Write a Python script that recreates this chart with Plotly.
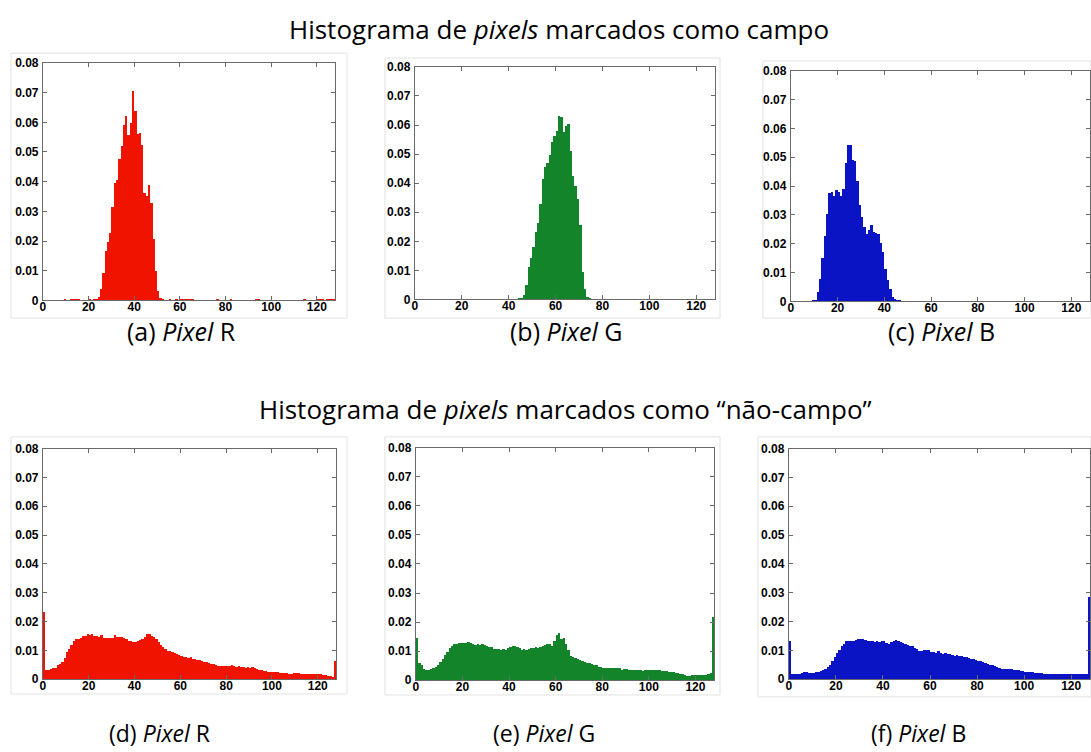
import plotly.graph_objects as go

# ---------------- data (normalised histograms, 128 bins) ----------------
bin_index = list(range(128))
x_ticks = [0, 20, 40, 60, 80, 100, 120]
y_ticks = [0, 0.01, 0.02, 0.03, 0.04, 0.05, 0.06, 0.07, 0.08]
y_tick_text = ["0", "0.01", "0.02", "0.03", "0.04", "0.05", "0.06", "0.07", "0.08"]

campo_R = [
    0, 0, 0, 0, 0, 0, 0, 0, 0, 0.0002, 0, 0, 0.0002, 0.0002, 0.0002, 0.0002,
    0, 0, 0, 0, 0.0002, 0, 0.0003, 0.0005, 0.0013, 0.0039, 0.0094, 0.0168, 0.0198, 0.0229, 0.0315, 0.0396,
    0.0407, 0.0476, 0.0520, 0.0590, 0.0620, 0.0556, 0.0597, 0.0705, 0.0637, 0.0560, 0.0564, 0.0524, 0.0363, 0.0352, 0.0389, 0.0328,
    0.0206, 0.0101, 0.0032, 0.0008, 0.0003, 0, 0, 0.0002, 0, 0, 0.0002, 0, 0.0002, 0.0002, 0.0002, 0.0002,
    0.0002, 0.0002, 0, 0, 0, 0, 0, 0, 0, 0, 0, 0, 0.0002, 0, 0, 0,
    0, 0, 0.0002, 0, 0, 0, 0, 0, 0, 0, 0, 0, 0, 0.0002, 0.0002, 0,
    0, 0, 0, 0, 0, 0, 0, 0, 0, 0, 0, 0, 0, 0, 0, 0,
    0, 0, 0.0002, 0, 0, 0, 0, 0, 0.0002, 0.0002, 0.0002, 0, 0.0002, 0.0002, 0.0002, 0.0002,
]

campo_G = [
    0, 0, 0, 0, 0, 0, 0, 0, 0, 0, 0, 0, 0, 0, 0, 0,
    0, 0, 0, 0, 0, 0, 0, 0, 0, 0, 0, 0, 0.0002, 0.0002, 0, 0,
    0.0002, 0, 0.0002, 0.0002, 0, 0, 0.0002, 0, 0, 0.0002, 0.0002, 0.0002, 0.0003, 0.0005, 0.0017, 0.0051,
    0.0112, 0.0143, 0.0180, 0.0233, 0.0262, 0.0329, 0.0415, 0.0457, 0.0471, 0.0496, 0.0542, 0.0561, 0.0580, 0.0631,
    0.0628, 0.0575, 0.0597, 0.0604, 0.0511, 0.0426, 0.0389, 0.0345, 0.0256, 0.0095, 0.0037, 0.0008, 0.0003, 0.0002, 0, 0,
    0, 0, 0.0002, 0, 0, 0, 0, 0, 0.0002, 0.0002, 0.0002, 0, 0, 0, 0, 0,
    0, 0.0002, 0, 0, 0, 0, 0, 0, 0, 0, 0.0002, 0, 0, 0, 0, 0,
    0, 0, 0, 0, 0, 0, 0, 0, 0, 0, 0, 0, 0, 0, 0, 0,
]

campo_B = [
    0.0002, 0.0002, 0.0002, 0.0002, 0.0002, 0.0002, 0.0002, 0.0002, 0.0002, 0.0003, 0.0006, 0.0032, 0.0077, 0.0151, 0.0229, 0.0303,
    0.0377, 0.0380, 0.0365, 0.0386, 0.0380, 0.0365, 0.0392, 0.0482, 0.0543, 0.0543, 0.0492, 0.0489, 0.0420, 0.0335, 0.0295, 0.0258,
    0.0233, 0.0250, 0.0265, 0.0240, 0.0238, 0.0233, 0.0204, 0.0173, 0.0114, 0.0074, 0.0043, 0.0017, 0.0009, 0.0005, 0.0003, 0.0002,
    0.0002, 0.0002, 0.0002, 0.0002, 0, 0, 0, 0, 0, 0, 0, 0, 0, 0, 0, 0,
    0, 0, 0, 0, 0, 0, 0, 0, 0, 0, 0, 0, 0, 0, 0, 0,
    0, 0, 0.0002, 0, 0, 0, 0, 0, 0, 0, 0, 0, 0, 0, 0, 0,
    0, 0, 0, 0, 0, 0, 0, 0, 0, 0, 0, 0, 0, 0, 0, 0,
    0, 0, 0, 0, 0, 0, 0, 0, 0, 0, 0, 0, 0, 0, 0, 0,
]

nao_R = [
    0.0235, 0.0035, 0.0035, 0.0038, 0.0040, 0.0040, 0.0050, 0.0055, 0.0060, 0.0075, 0.0095, 0.0105, 0.0120, 0.0135, 0.0140, 0.0140,
    0.0145, 0.0152, 0.0152, 0.0158, 0.0155, 0.0157, 0.0152, 0.0150, 0.0148, 0.0155, 0.0145, 0.0145, 0.0145, 0.0145, 0.0145, 0.0155,
    0.0148, 0.0148, 0.0148, 0.0145, 0.0140, 0.0135, 0.0135, 0.0132, 0.0130, 0.0133, 0.0138, 0.0142, 0.0148, 0.0158, 0.0157, 0.0150,
    0.0148, 0.0140, 0.0132, 0.0120, 0.0112, 0.0105, 0.0100, 0.0100, 0.0097, 0.0092, 0.0088, 0.0085, 0.0083, 0.0080, 0.0078, 0.0075,
    0.0077, 0.0072, 0.0070, 0.0068, 0.0068, 0.0065, 0.0062, 0.0060, 0.0058, 0.0055, 0.0053, 0.0050, 0.0048, 0.0047, 0.0047, 0.0048,
    0.0048, 0.0047, 0.0050, 0.0047, 0.0045, 0.0047, 0.0043, 0.0045, 0.0042, 0.0043, 0.0042, 0.0043, 0.0040, 0.0037, 0.0035, 0.0033,
    0.0030, 0.0030, 0.0028, 0.0027, 0.0027, 0.0025, 0.0025, 0.0023, 0.0023, 0.0022, 0.0022, 0.0020, 0.0020, 0.0023, 0.0022, 0.0022,
    0.0020, 0.0020, 0.0020, 0.0019, 0.0020, 0.0019, 0.0020, 0.0021, 0.0019, 0.0018, 0.0017, 0.0015, 0.0014, 0.0012, 0.0010, 0.0065,
]

nao_G = [
    0.0145, 0.0060, 0.0052, 0.0040, 0.0035, 0.0037, 0.0040, 0.0042, 0.0047, 0.0055, 0.0065, 0.0075, 0.0088, 0.0100, 0.0112, 0.0120,
    0.0125, 0.0127, 0.0128, 0.0130, 0.0130, 0.0130, 0.0133, 0.0130, 0.0125, 0.0122, 0.0127, 0.0122, 0.0125, 0.0122, 0.0120, 0.0117,
    0.0115, 0.0110, 0.0108, 0.0108, 0.0105, 0.0110, 0.0105, 0.0112, 0.0117, 0.0120, 0.0120, 0.0115, 0.0112, 0.0105, 0.0110, 0.0105,
    0.0110, 0.0112, 0.0112, 0.0115, 0.0113, 0.0115, 0.0120, 0.0123, 0.0127, 0.0125, 0.0120, 0.0135, 0.0158, 0.0165, 0.0142, 0.0148,
    0.0125, 0.0105, 0.0085, 0.0080, 0.0077, 0.0075, 0.0072, 0.0068, 0.0065, 0.0062, 0.0060, 0.0057, 0.0055, 0.0053, 0.0048, 0.0046,
    0.0045, 0.0042, 0.0042, 0.0042, 0.0044, 0.0044, 0.0042, 0.0042, 0.0038, 0.0040, 0.0040, 0.0038, 0.0037, 0.0037, 0.0037, 0.0035,
    0.0035, 0.0033, 0.0035, 0.0037, 0.0038, 0.0037, 0.0037, 0.0037, 0.0035, 0.0033, 0.0032, 0.0032, 0.0030, 0.0029, 0.0028, 0.0027,
    0.0025, 0.0022, 0.0021, 0.0020, 0.0017, 0.0016, 0.0019, 0.0018, 0.0018, 0.0018, 0.0018, 0.0019, 0.0020, 0.0022, 0.0025, 0.0220,
]

nao_B = [
    0.0135, 0.0020, 0.0018, 0.0018, 0.0020, 0.0022, 0.0025, 0.0025, 0.0023, 0.0023, 0.0022, 0.0025, 0.0028, 0.0030, 0.0033, 0.0038,
    0.0045, 0.0052, 0.0065, 0.0080, 0.0092, 0.0103, 0.0115, 0.0125, 0.0135, 0.0135, 0.0133, 0.0135, 0.0137, 0.0140, 0.0140, 0.0140,
    0.0138, 0.0133, 0.0133, 0.0135, 0.0130, 0.0133, 0.0132, 0.0133, 0.0133, 0.0128, 0.0125, 0.0130, 0.0133, 0.0137, 0.0135, 0.0130,
    0.0127, 0.0125, 0.0120, 0.0118, 0.0115, 0.0110, 0.0105, 0.0100, 0.0098, 0.0102, 0.0103, 0.0102, 0.0097, 0.0095, 0.0093, 0.0098,
    0.0093, 0.0090, 0.0092, 0.0088, 0.0088, 0.0085, 0.0082, 0.0085, 0.0083, 0.0082, 0.0080, 0.0078, 0.0075, 0.0072, 0.0070, 0.0068,
    0.0066, 0.0063, 0.0060, 0.0057, 0.0054, 0.0052, 0.0050, 0.0047, 0.0044, 0.0040, 0.0038, 0.0038, 0.0038, 0.0038, 0.0037, 0.0035,
    0.0033, 0.0032, 0.0030, 0.0030, 0.0028, 0.0027, 0.0026, 0.0025, 0.0024, 0.0023, 0.0022, 0.0022, 0.0020, 0.0020, 0.0020, 0.0019,
    0.0018, 0.0018, 0.0019, 0.0020, 0.0020, 0.0019, 0.0018, 0.0020, 0.0019, 0.0019, 0.0020, 0.0019, 0.0020, 0.0020, 0.0019, 0.0285,
]

series = [campo_R, campo_G, campo_B, nao_R, nao_G, nao_B]
colors = ["#f01400", "#14842a", "#0a14c4", "#f01400", "#14842a", "#0a14c4"]
captions = ["(a) <i>Pixel</i> R", "(b) <i>Pixel</i> G", "(c) <i>Pixel</i> B",
            "(d) <i>Pixel</i> R", "(e) <i>Pixel</i> G", "(f) <i>Pixel</i> B"]
title_top = "Histograma de <i>pixels</i> marcados como campo"
title_bottom = "Histograma de <i>pixels</i> marcados como \u201cn\u00e3o-campo\u201d"

# ---------------- layout helpers (pixel boxes) ----------------
W, H = 1091, 752
def fx(p):
    return p / W
def fy(p):
    return 1 - p / H

# plot boxes: (left, right, top, bottom) in pixels
boxes = [
    (40, 333, 57, 299),
    (413, 714, 61, 298),
    (790, 1090, 65, 300),
    (40, 334, 450, 685),
    (414, 713, 449, 686),
    (788, 1090, 450, 685),
]
caption_pos = [(179, 330), (565, 330), (941, 330), (157, 740), (542, 740), (918, 740)]
caption_size = [25, 25, 25, 23, 23, 23]
frames = [
    (8, 345, 47, 317), (383, 719, 52, 317), (762, 1091, 55, 317),
    (8, 345, 438, 700), (383, 719, 438, 701), (757, 1091, 438, 703),
]

fig = go.Figure()
x_centers = [b + 0.5 for b in bin_index]

tickfont = dict(family="Liberation Sans, Arial", size=12, color="black", weight="bold")
axis_common = dict(showgrid=False, zeroline=False, showline=True, mirror="ticks",
                   ticks="inside", ticklen=4, linecolor="#6a6a6a", tickcolor="#6a6a6a",
                   linewidth=1, tickfont=tickfont, fixedrange=True)

layout = dict(width=W, height=H, margin=dict(l=0, r=0, t=0, b=0),
              paper_bgcolor="white", plot_bgcolor="white", showlegend=False,
              bargap=0, font=dict(family="Open Sans"))

for i, (vals, col, box) in enumerate(zip(series, colors, boxes)):
    n = "" if i == 0 else str(i + 1)
    fig.add_trace(go.Bar(x=x_centers, y=vals, width=1, marker=dict(color=col, line=dict(width=0)),
                         xaxis="x" + n, yaxis="y" + n, hoverinfo="x+y"))
    l, r, t, b = box
    layout["xaxis" + n] = dict(axis_common, domain=[fx(l), fx(r)], range=[0, 128],
                               tickvals=x_ticks, anchor="y" + n, ticklabelstandoff=-5)
    layout["yaxis" + n] = dict(axis_common, domain=[fy(b), fy(t)], range=[0, 0.08],
                               tickvals=y_ticks, ticktext=y_tick_text, anchor="x" + n,
                               ticklabelstandoff=1)

annotations = [
    dict(text=title_top, x=fx(558), y=fy(22), xref="paper", yref="paper", showarrow=False,
         font=dict(family="Open Sans", size=26, color="black"), xanchor="center", yanchor="middle"),
    dict(text=title_bottom, x=fx(564), y=fy(410), xref="paper", yref="paper", showarrow=False,
         font=dict(family="Open Sans", size=26, color="black"), xanchor="center", yanchor="middle"),
]
for cap, (cx, cy), fs in zip(captions, caption_pos, caption_size):
    annotations.append(dict(text=cap, x=fx(cx), y=fy(cy), xref="paper", yref="paper", showarrow=False,
                            font=dict(family="Open Sans", size=fs, color="black"),
                            xanchor="center", yanchor="middle"))
layout["annotations"] = annotations

shapes = []
for (l, r, t, b) in frames:
    shapes.append(dict(type="rect", xref="paper", yref="paper", x0=fx(l), x1=fx(r), y0=fy(b), y1=fy(t),
                       line=dict(color="#e2e2e2", width=1), layer="below"))
layout["shapes"] = shapes

fig.update_layout(**layout)
fig.write_html("out.html")
